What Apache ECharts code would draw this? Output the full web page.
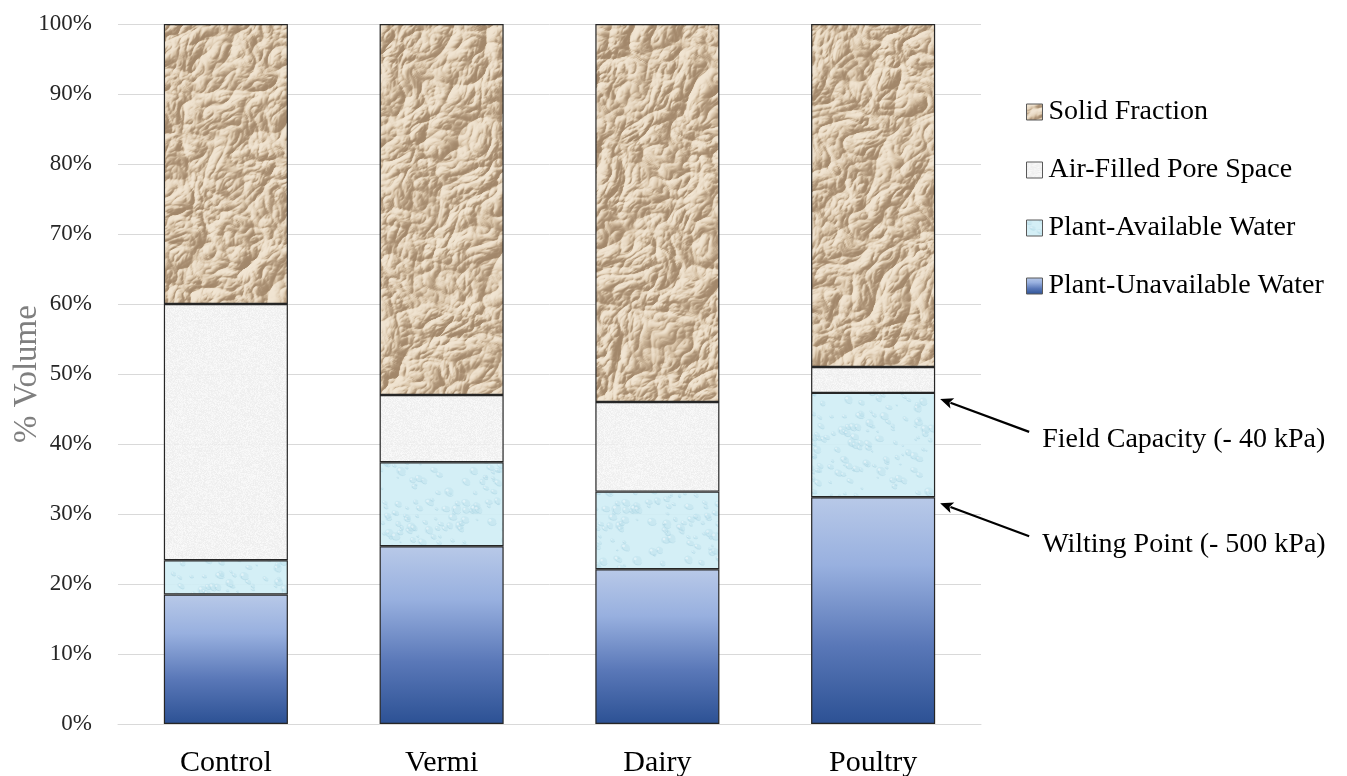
<!DOCTYPE html>
<html>
<head>
<meta charset="utf-8">
<title>Substrate volume fractions</title>
<script src="https://cdn.jsdelivr.net/npm/echarts@6/dist/echarts.min.js"></script>
<style>
  html, body { margin: 0; padding: 0; background: #ffffff; }
  #chart { width: 1347px; height: 776px; }
</style>
</head>
<body>
<div id="chart"></div>
<script>
// ---- data (% of total volume) ----
const categories = ['Control', 'Vermi', 'Dairy', 'Poultry'];
const unavailableWater = [18.5, 25.4, 22.1, 32.4];
const availableWater = [4.9, 12.0, 11.1, 14.9];
const airPoreSpace = [36.6, 9.6, 12.8, 3.7];
const solidFraction = [40.0, 53.0, 54.0, 49.0];
const yTicks = { min: 0, max: 100, interval: 10 };
const seriesNames = ['Plant-Unavailable Water', 'Plant-Available Water', 'Air-Filled Pore Space', 'Solid Fraction'];
const legendOrder = ['Solid Fraction', 'Air-Filled Pore Space', 'Plant-Available Water', 'Plant-Unavailable Water'];
const notes = [
  { text: 'Field Capacity (- 40 kPa)', level: 'field' },
  { text: 'Wilting Point (- 500 kPa)', level: 'wilting' }
];

const SERIF = '"Liberation Serif", "DejaVu Serif", serif';

// deterministic pseudo-random source for fill textures
function makeRand(seed) {
  let a = seed >>> 0;
  return function () {
    a = (a + 0x6D2B79F5) >>> 0;
    let t = a;
    t = Math.imul(t ^ (t >>> 15), t | 1);
    t ^= t + Math.imul(t ^ (t >>> 7), t | 61);
    return ((t ^ (t >>> 14)) >>> 0) / 4294967296;
  };
}

// classic 2D gradient noise
function makePerlin(rand) {
  const p = new Uint8Array(512);
  const base = [];
  for (let i = 0; i < 256; i++) base.push(i);
  for (let i = 255; i > 0; i--) {
    const j = Math.floor(rand() * (i + 1));
    const t = base[i]; base[i] = base[j]; base[j] = t;
  }
  for (let i = 0; i < 512; i++) p[i] = base[i & 255];
  const gx = [1, -1, 1, -1, 1.414, -1.414, 0, 0];
  const gy = [1, 1, -1, -1, 0, 0, 1.414, -1.414];
  const fade = t => t * t * t * (t * (t * 6 - 15) + 10);
  return function (x, y) {
    const xi = Math.floor(x), yi = Math.floor(y);
    const xf = x - xi, yf = y - yi;
    const X = xi & 255, Y = yi & 255;
    const g = (h, dx, dy) => gx[h & 7] * dx + gy[h & 7] * dy;
    const aa = p[p[X] + Y], ab = p[p[X] + Y + 1], ba = p[p[X + 1] + Y], bb = p[p[X + 1] + Y + 1];
    const u = fade(xf), v = fade(yf);
    const n00 = g(aa, xf, yf), n10 = g(ba, xf - 1, yf);
    const n01 = g(ab, xf, yf - 1), n11 = g(bb, xf - 1, yf - 1);
    const a = n00 + (n10 - n00) * u, b = n01 + (n11 - n01) * u;
    return a + (b - a) * v;
  };
}

// crumpled tan paper: ridged, warped height field lit from the upper left.
// Laid out at chart size so the pattern never visibly repeats.
function paperTexture(w, hgt) {
  const rand = makeRand(11);
  const noise = makePerlin(rand);
  const octaves = [
    { f: 1 / 48, a: 1.0, r: 0.5 },
    { f: 1 / 24, a: 0.55, r: 1.3 },
    { f: 1 / 12, a: 0.28, r: 2.1 },
    { f: 1 / 6, a: 0.1, r: 2.9 }
  ];
  const H = new Float32Array(w * hgt);
  for (let y = 0; y < hgt; y++) {
    for (let x = 0; x < w; x++) {
      const wx = x + 9 * noise(x * 0.018, y * 0.018 + 40);
      const wy = y + 9 * noise(x * 0.018 + 70, y * 0.018);
      let h = 0;
      for (const o of octaves) {
        const c = Math.cos(o.r), s = Math.sin(o.r);
        const u = (wx * c - wy * s) * o.f, v = (wx * s + wy * c) * o.f;
        const n = 1 - Math.min(1, Math.abs(noise(u + 13.7, v + 5.1)) * 1.5);
        h += o.a * n * n;
      }
      H[y * w + x] = h;
    }
  }
  const cv = document.createElement('canvas');
  cv.width = w; cv.height = hgt;
  const g = cv.getContext('2d');
  const img = g.createImageData(w, hgt);
  const base = [214, 193, 165], hi = [241, 229, 211], lo = [152, 124, 95];
  for (let y = 0; y < hgt; y++) {
    for (let x = 0; x < w; x++) {
      const xm = x > 0 ? x - 1 : x, xp = x < w - 1 ? x + 1 : x;
      const ym = y > 0 ? y - 1 : y, yp = y < hgt - 1 ? y + 1 : y;
      const dx = H[y * w + xp] - H[y * w + xm];
      const dy = H[yp * w + x] - H[ym * w + x];
      let sh = -(dx * 0.75 + dy * 0.65) * 7;
      sh = Math.tanh(sh);
      const i = (y * w + x) * 4;
      for (let ch = 0; ch < 3; ch++) {
        img.data[i + ch] = sh >= 0 ? base[ch] + (hi[ch] - base[ch]) * sh : base[ch] + (base[ch] - lo[ch]) * sh * 0.85;
      }
      img.data[i + 3] = 255;
    }
  }
  g.putImageData(img, 0, 0);
  return cv;
}

// pale cyan with faint water droplets
function dropletTexture() {
  const size = 160;
  const c = document.createElement('canvas');
  c.width = c.height = size;
  const g = c.getContext('2d');
  const r = makeRand(29);
  g.fillStyle = 'rgba(208,238,245,0.92)';
  g.fillRect(0, 0, size, size);
  for (let i = 0; i < 260; i++) {
    const x = r() * size, y = r() * size;
    const rx = 1.2 + r() * 3.8, ry = rx * (0.6 + r() * 0.4);
    const rot = r() * 0.6;
    for (let dx = -size; dx <= size; dx += size)
      for (let dy = -size; dy <= size; dy += size) {
        g.beginPath();
        g.ellipse(x + dx, y + dy, rx, ry, rot, 0, Math.PI * 2);
        g.fillStyle = 'rgba(184,222,234,0.4)';
        g.fill();
        g.beginPath();
        g.ellipse(x + dx + rx * 0.2, y + dy + ry * 0.25, rx * 0.8, ry * 0.7, rot, 0, Math.PI);
        g.strokeStyle = 'rgba(150,198,216,0.35)';
        g.lineWidth = 0.8;
        g.stroke();
        g.beginPath();
        g.arc(x + dx - rx * 0.35, y + dy - ry * 0.35, rx * 0.28, 0, Math.PI * 2);
        g.fillStyle = 'rgba(250,254,255,0.5)';
        g.fill();
      }
  }
  const out = document.createElement('canvas');
  out.width = out.height = size;
  const o = out.getContext('2d');
  o.filter = 'blur(0.5px)';
  o.drawImage(c, 0, 0);
  return out;
}

// fine-grained light grey
function grainTexture() {
  const size = 128;
  const c = document.createElement('canvas');
  c.width = c.height = size;
  const g = c.getContext('2d');
  const r = makeRand(5);
  const img = g.createImageData(size, size);
  for (let i = 0; i < size * size; i++) {
    const v = 242 + Math.round((r() - 0.5) * 14);
    img.data[i * 4] = v; img.data[i * 4 + 1] = v; img.data[i * 4 + 2] = v;
    img.data[i * 4 + 3] = 232;
  }
  g.putImageData(img, 0, 0);
  const out = document.createElement('canvas');
  out.width = out.height = size;
  const o = out.getContext('2d');
  o.filter = 'blur(0.4px)';
  o.drawImage(c, 0, 0);
  return out;
}

const fills = {
  'Solid Fraction': { image: paperTexture(1347, 430), repeat: 'repeat' },
  'Air-Filled Pore Space': { image: grainTexture(), repeat: 'repeat' },
  'Plant-Available Water': { image: dropletTexture(), repeat: 'repeat' },
  'Plant-Unavailable Water': new echarts.graphic.LinearGradient(0, 0, 0, 1, [
    { offset: 0, color: '#b8c9e8' },
    { offset: 0.3, color: '#98b0df' },
    { offset: 0.65, color: '#5a78b8' },
    { offset: 1, color: '#2c5194' }
  ])
};

const values = [unavailableWater, availableWater, airPoreSpace, solidFraction];

const chart = echarts.init(document.getElementById('chart'), null, { renderer: 'canvas' });

const BAR_RATIO = 0.575;

chart.setOption({
  animation: false,
  backgroundColor: '#ffffff',
  grid: { left: 118, right: 366, top: 24, bottom: 52, containLabel: false, outerBoundsMode: 'none' },
  legend: {
    data: legendOrder,
    orient: 'vertical',
    left: 1021,
    top: 92,
    icon: 'rect',
    itemWidth: 16,
    itemHeight: 16,
    itemGap: 28,
    selectedMode: false,
    itemStyle: { borderColor: '#595959', borderWidth: 1 },
    textStyle: { fontFamily: SERIF, fontSize: 28, color: '#000000', lineHeight: 30, padding: [0, 0, 0, 1] }
  },
  xAxis: {
    type: 'category',
    data: categories,
    axisLine: { lineStyle: { color: '#d9d9d9', width: 1 } },
    axisTick: { show: false },
    axisLabel: { fontFamily: SERIF, fontSize: 30, color: '#000000', margin: 24 }
  },
  yAxis: {
    type: 'value',
    min: yTicks.min,
    max: yTicks.max,
    interval: yTicks.interval,
    name: '% Volume',
    nameLocation: 'middle',
    nameGap: 74,
    nameMoveOverlap: false,
    nameTextStyle: { fontFamily: SERIF, fontSize: 33, color: '#7f7f7f' },
    axisLine: { show: false },
    axisTick: { show: false },
    splitLine: { lineStyle: { color: '#d9d9d9', width: 1 } },
    axisLabel: { fontFamily: SERIF, fontSize: 23, color: '#262626', margin: 26, formatter: '{value}%' }
  },
  series: seriesNames.map((name, i) => ({
    name: name,
    type: 'bar',
    stack: 'volume',
    barWidth: (BAR_RATIO * 100) + '%',
    data: values[i],
    itemStyle: { color: fills[name], borderColor: '#262626', borderWidth: 1.2 },
    emphasis: { disabled: true }
  }))
});

// arrows pointing at the Poultry boundaries
function drawNotes() {
  const last = categories.length - 1;
  const cx = chart.convertToPixel({ xAxisIndex: 0 }, categories[last]);
  const band = cx - chart.convertToPixel({ xAxisIndex: 0 }, categories[last - 1]);
  const barRight = cx + band * BAR_RATIO / 2;
  const levels = {
    wilting: unavailableWater[last],
    field: unavailableWater[last] + availableWater[last]
  };
  const elements = [];
  notes.forEach(n => {
    const tipX = barRight + 5;
    const tipY = chart.convertToPixel({ yAxisIndex: 0 }, levels[n.level]) + 6;
    const tailX = tipX + 89, tailY = tipY + 33;
    const ang = Math.atan2(tipY - tailY, tipX - tailX);
    const hl = 13, hw = 5.5;
    const bx = tipX - Math.cos(ang) * hl, by = tipY - Math.sin(ang) * hl;
    const px = -Math.sin(ang) * hw, py = Math.cos(ang) * hw;
    elements.push({
      type: 'line',
      shape: { x1: tailX, y1: tailY, x2: bx + Math.cos(ang) * 2, y2: by + Math.sin(ang) * 2 },
      style: { stroke: '#000000', lineWidth: 2.2 },
      silent: true
    });
    elements.push({
      type: 'polygon',
      shape: { points: [[tipX, tipY], [bx + px, by + py], [bx + Math.cos(ang) * 3, by + Math.sin(ang) * 3], [bx - px, by - py]] },
      style: { fill: '#000000' },
      silent: true
    });
    elements.push({
      type: 'text',
      x: tailX + 13,
      y: tailY + 8,
      style: { text: n.text, font: '28px ' + SERIF, fill: '#000000', verticalAlign: 'middle', align: 'left' },
      silent: true
    });
  });
  chart.setOption({ graphic: { elements: elements } });
}
drawNotes();
</script>
</body>
</html>
